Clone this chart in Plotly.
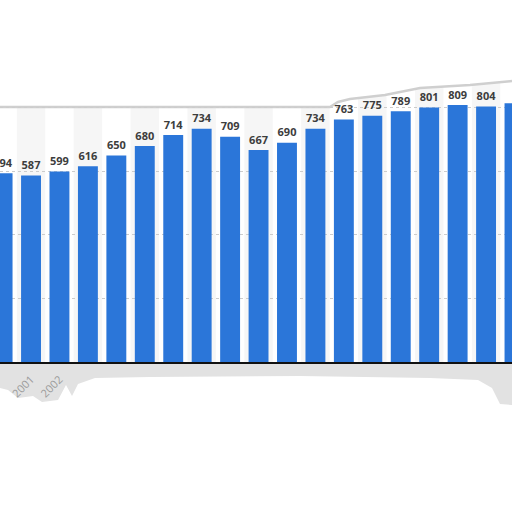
import plotly.graph_objects as go

years = list(range(2000, 2019))
values = [594, 587, 599, 616, 650, 680, 714, 734, 709, 667, 690, 734, 763, 775, 789, 801, 809, 804, 814]
tick_labels = ["2000", "2001", "2002"] + [""] * 15 + ["2018"]
y_ticks = [0, 200, 400, 600, 800]

BAR = "#2b76d9"

fig = go.Figure()
fig.add_trace(go.Bar(x=years, y=values, marker=dict(color=BAR, line=dict(width=0)),
                     hoverinfo="x+y"))
fig.add_trace(go.Scatter(x=years, y=values, mode="markers+text", text=[str(v) for v in values],
                         textposition="top center", cliponaxis=False, hoverinfo="skip",
                         marker=dict(size=4, opacity=0),
                         textfont=dict(family="Open Sans", size=11, color="#3d3d3d", weight="bold")))

shapes = []
# alternating column bands
for yr in years:
    if yr % 2 == 1:
        shapes.append(dict(type="rect", xref="x", yref="paper", x0=yr - 0.5, x1=yr + 0.5,
                           y0=0, y1=1, fillcolor="#f6f6f6", line=dict(width=0), layer="below"))

def px(x, y):
    return x / 512.0, (362.0 - y) / 362.0

# torn-paper top: white above the edge, grey edge line
top_edge = [(0, 107), (330, 107), (338, 102), (350, 99), (385, 95), (420, 88), (470, 85), (512, 81)]
pts = [px(x, y) for x, y in top_edge]
d = "M {},{} ".format(0, px(0, -5)[1])
for x, y in pts:
    d += "L {},{} ".format(x, y)
d += "L {},{} Z".format(1, px(0, -5)[1])
shapes.append(dict(type="path", xref="paper", yref="paper", path=d,
                   fillcolor="white", line=dict(width=0), layer="between"))
d2 = "M {},{} ".format(*pts[0]) + " ".join("L {},{}".format(x, y) for x, y in pts[1:])
shapes.append(dict(type="path", xref="paper", yref="paper", path=d2,
                   line=dict(color="#cfcfcf", width=2.5), layer="between"))

# torn-paper bottom shadow
bottom = [(0, 363), (512, 363), (512, 405), (500, 404), (492, 388), (478, 380), (430, 378),
          (300, 376), (150, 377), (95, 378), (78, 384), (72, 396), (66, 385), (58, 400),
          (42, 402), (33, 396), (18, 398), (8, 390), (0, 388)]
bp = [px(x, y) for x, y in bottom]
d3 = "M {},{} ".format(*bp[0]) + " ".join("L {},{}".format(x, y) for x, y in bp[1:]) + " Z"
shapes.append(dict(type="path", xref="paper", yref="paper", path=d3,
                   fillcolor="#e2e2e2", line=dict(width=0), layer="below"))

fig.update_layout(
    width=512, height=512,
    margin=dict(l=0, r=0, t=0, b=150),
    paper_bgcolor="white", plot_bgcolor="white",
    showlegend=False, bargap=0.3,
    shapes=shapes,
    xaxis=dict(range=[1999.909, 2017.912], tickvals=years, ticktext=tick_labels,
               tickangle=-45, showgrid=False, showline=True, linecolor="#111111", linewidth=1.5,
               ticks="", ticklabelstandoff=5,
               tickfont=dict(family="Open Sans", size=11, color="#9a9a9a"),
               zeroline=False, fixedrange=True),
    yaxis=dict(range=[0, 1139], tickmode="array", tickvals=y_ticks, showgrid=True,
               gridcolor="#cccccc", griddash="dot", gridwidth=1, showticklabels=False,
               zeroline=False, fixedrange=True),
)

fig.write_html("out.html", config={"displayModeBar": False},
               post_script="document.body.style.margin='0';document.body.style.overflow='hidden';")
